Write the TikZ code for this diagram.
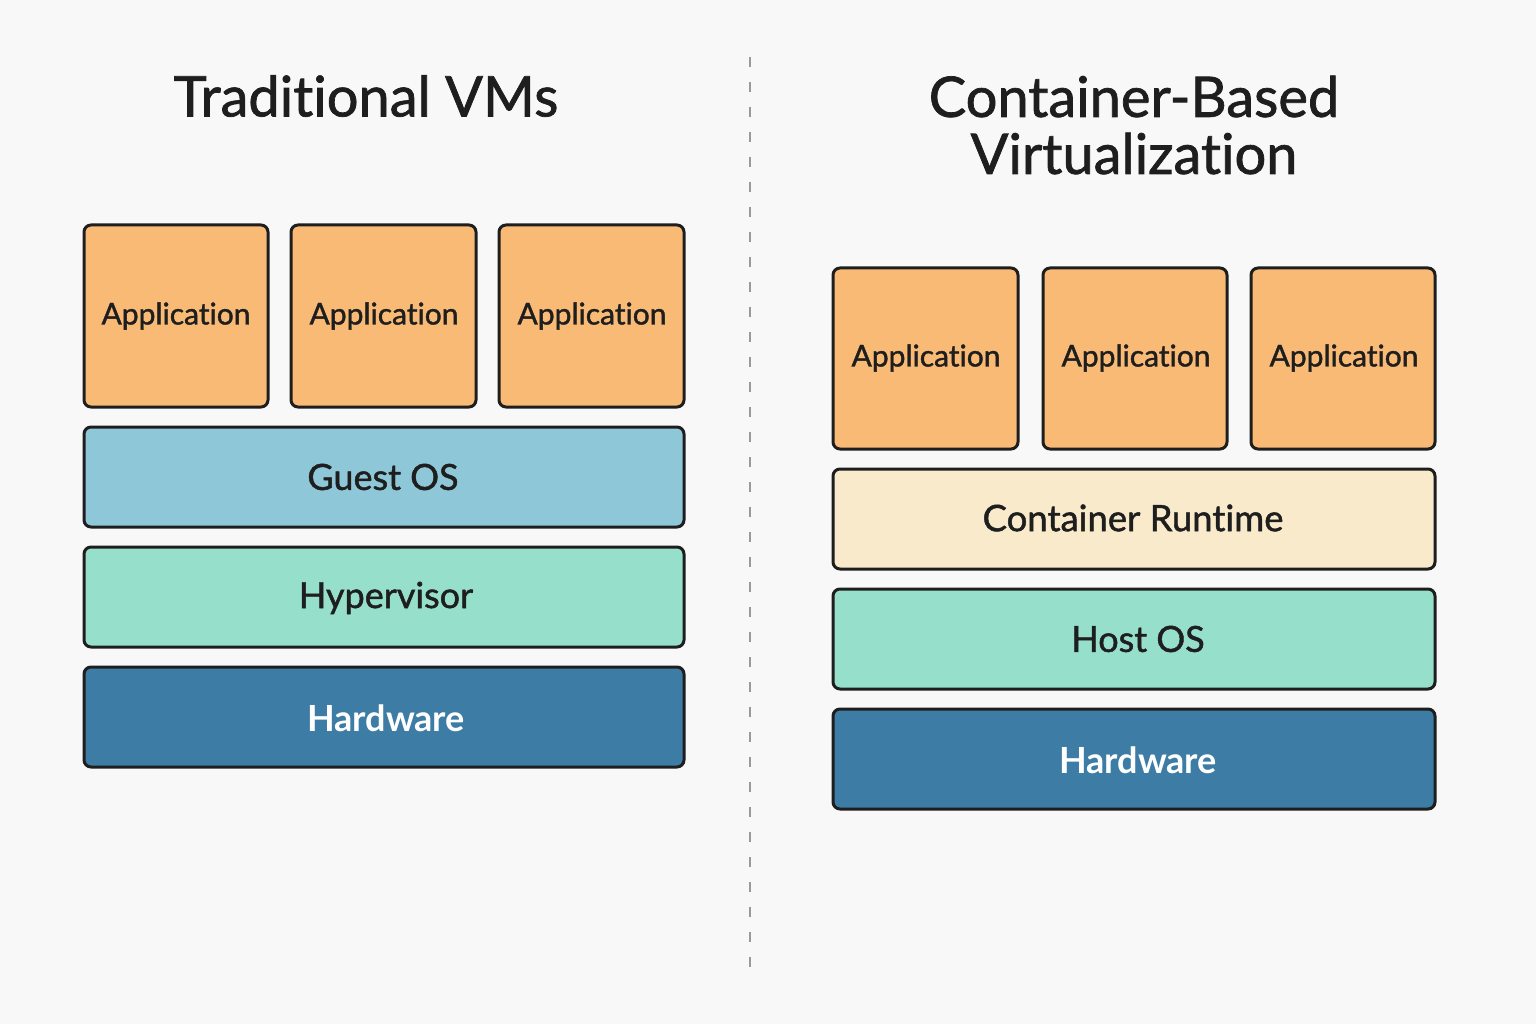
\documentclass[tikz,border=0pt]{standalone}
\usepackage{fontspec}
\setmainfont{Lato}[Ligatures={NoCommon,NoRare}]
\newfontfamily\medfont{Lato}[Ligatures={NoCommon,NoRare},FakeBold=1.3]
\definecolor{bg}{HTML}{F8F8F8}
\definecolor{appc}{HTML}{F9BA75}
\definecolor{guestc}{HTML}{8DC7D8}
\definecolor{hypc}{HTML}{96E0CB}
\definecolor{hwc}{HTML}{3D7CA4}
\definecolor{rtc}{HTML}{F8EACB}
\definecolor{ink}{HTML}{1E1E1E}
\definecolor{dashc}{HTML}{9A9A9A}
\tikzset{
  layer/.style={draw=ink, line width=3pt, rounded corners=7pt},
  lbl/.style={text=ink, font=\medfont\fontsize{30}{32}\selectfont},
  big/.style={text=ink, font=\medfont\fontsize{36}{40}\selectfont},
  hw/.style={text=white, font=\bfseries\fontsize{36}{40}\selectfont},
  title/.style={text=ink, font=\medfont\fontsize{56}{57}\selectfont, align=center}
}
\begin{document}
\begin{tikzpicture}[x=1pt,y=-1pt]
\fill[bg] (0,0) rectangle (1536,1024);
\useasboundingbox (0,0) rectangle (1536,1024);
% divider
\coordinate (dtop) at (750,57);
\coordinate (dbot) at (750,972);
\draw[dashc, line width=2.5pt, dash pattern=on 10pt off 15pt] (dtop) -- (dbot);
% titles
\node[title] (t1) at (366,96) {Traditional VMs};
\node[title] (t2) at (1134,125) {Container-Based\\Virtualization};
% left stack
\draw[layer, fill=appc] (84,225) rectangle (268,407);
\node[lbl] (la1) at (176,316) {Application};
\draw[layer, fill=appc] (291,225) rectangle (476,407);
\node[lbl] (la2) at (384,316) {Application};
\draw[layer, fill=appc] (499,225) rectangle (684,407);
\node[lbl] (la3) at (592,316) {Application};
\draw[layer, fill=guestc] (84,427) rectangle (684,527);
\node[big] (lg) at (383,477) {Guest OS};
\draw[layer, fill=hypc] (84,547) rectangle (684,647);
\node[big] (lh) at (386,598) {Hypervisor};
\draw[layer, fill=hwc] (84,667) rectangle (684,767);
\node[hw] (lw) at (386,718) {Hardware};
% right stack
\draw[layer, fill=appc] (833,268) rectangle (1018,449);
\node[lbl] (ra1) at (926,358) {Application};
\draw[layer, fill=appc] (1043,268) rectangle (1227,449);
\node[lbl] (ra2) at (1136,358) {Application};
\draw[layer, fill=appc] (1251,268) rectangle (1435,449);
\node[lbl] (ra3) at (1344,358) {Application};
\draw[layer, fill=rtc] (833,469) rectangle (1435,569);
\node[big, font=\medfont\fontsize{36.5}{40}\selectfont] (rr) at (1133,518) {Container Runtime};
\draw[layer, fill=hypc] (833,589) rectangle (1435,689);
\node[big] (rh) at (1138,639) {Host OS};
\draw[layer, fill=hwc] (833,709) rectangle (1435,809);
\node[hw] (rw) at (1138,760) {Hardware};
\end{tikzpicture}
\end{document}
